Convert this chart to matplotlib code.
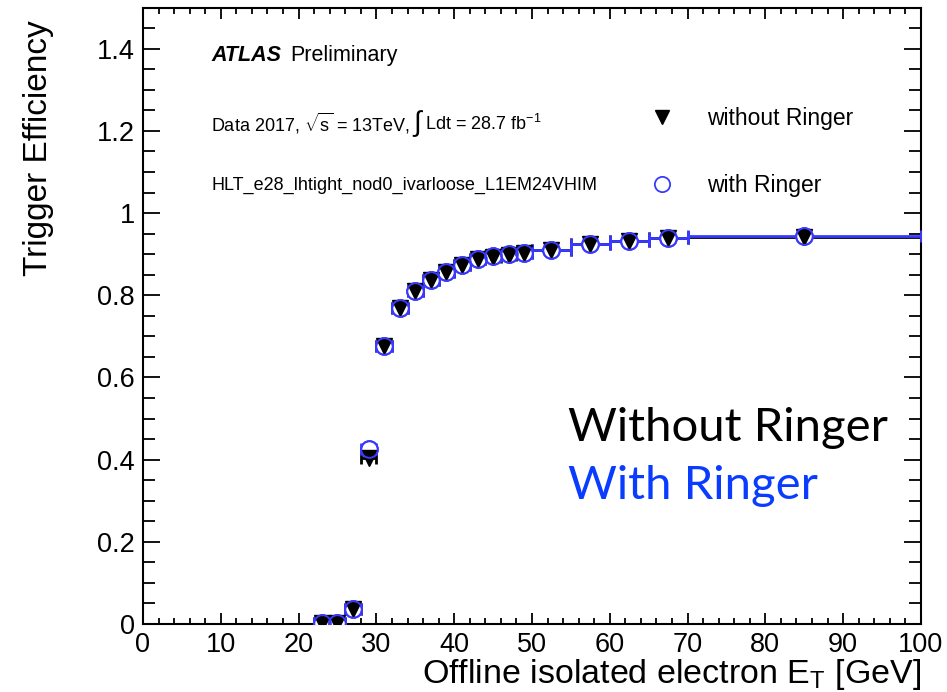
import numpy as np
import matplotlib
matplotlib.use("Agg")
import matplotlib.pyplot as plt
from matplotlib.ticker import MultipleLocator
from matplotlib.lines import Line2D
from matplotlib.transforms import offset_copy

plt.rcParams['font.family'] = ['Liberation Sans', 'DejaVu Sans']
plt.rcParams['mathtext.fontset'] = 'custom'
plt.rcParams['mathtext.rm'] = 'Liberation Sans'
plt.rcParams['mathtext.it'] = 'Liberation Sans:italic'

# Bin edges in offline electron E_T [GeV]
bin_lo = [22, 24, 26, 28, 30, 32, 34, 36, 38, 40, 42, 44, 46, 48, 50, 55, 60, 65, 70]
bin_hi = [24, 26, 28, 30, 32, 34, 36, 38, 40, 42, 44, 46, 48, 50, 55, 60, 65, 70, 100]

# Trigger efficiency per bin
eff_without = [0.002, 0.002, 0.036, 0.404, 0.676, 0.768, 0.810, 0.836, 0.856, 0.873,
               0.887, 0.894, 0.899, 0.903, 0.910, 0.924, 0.932, 0.939, 0.942]
eff_with = [0.002, 0.002, 0.037, 0.426, 0.677, 0.769, 0.811, 0.837, 0.857, 0.874,
            0.888, 0.895, 0.900, 0.904, 0.911, 0.925, 0.933, 0.940, 0.944]

x_lo = np.array(bin_lo, float)
x_hi = np.array(bin_hi, float)
xc = 0.5 * (x_lo + x_hi)
xw = 0.5 * (x_hi - x_lo)

blue = '#3a3aff'

fig = plt.figure(figsize=(9.47, 6.92), dpi=100)
ax = fig.add_axes([0.151, 0.0983, 0.8215, 0.8907])

# Horizontal bin-width bars with end caps
ax.errorbar(xc, eff_without, xerr=xw, fmt='none', ecolor='black', elinewidth=2.0,
            capsize=4, capthick=2.0, zorder=2)
ax.errorbar(xc, eff_with, xerr=xw, fmt='none', ecolor=blue, elinewidth=2.0,
            capsize=4, capthick=2.0, zorder=3)
ax.plot(xc, eff_with, linestyle='none', marker='o', markersize=12,
        markerfacecolor='white', markeredgecolor=blue, markeredgewidth=1.4, zorder=4)
ax.plot(xc, eff_without, linestyle='none', marker='v', markersize=11.5,
        color='black', zorder=5)
ax.plot(xc, eff_with, linestyle='none', marker='o', markersize=12,
        markerfacecolor='none', markeredgecolor=blue, markeredgewidth=1.4, zorder=6)

ax.set_xlim(0, 100)
ax.set_ylim(0, 1.5)
ax.xaxis.set_major_locator(MultipleLocator(10))
ax.xaxis.set_minor_locator(MultipleLocator(2))
ax.yaxis.set_major_locator(MultipleLocator(0.2))
ax.yaxis.set_minor_locator(MultipleLocator(0.05))
ax.set_yticks([0, 0.2, 0.4, 0.6, 0.8, 1.0, 1.2, 1.4])
ax.set_yticklabels(['0', '0.2', '0.4', '0.6', '0.8', '1', '1.2', '1.4'])

ax.tick_params(axis='both', which='both', direction='in', top=True, right=True,
               labelsize=19.5, width=1.3, colors='black')
ax.tick_params(axis='x', which='major', length=8, pad=6)
ax.tick_params(axis='x', which='minor', length=4.5)
ax.tick_params(axis='y', which='major', length=12, pad=6)
ax.tick_params(axis='y', which='minor', length=8.5)
for s in ax.spines.values():
    s.set_linewidth(1.5)

ax.set_xlabel(r'Offline isolated electron E$_\mathrm{T}$ [GeV]', fontsize=24.5, loc='right')
ax.xaxis.set_label_coords(1.0, -0.054)
ax.set_ylabel('Trigger Efficiency', fontsize=24, loc='top')
ax.yaxis.set_label_coords(-0.115, 0.98)

# ATLAS labels
ax.text(0.088, 0.923, 'ATLAS', transform=ax.transAxes, fontsize=15.5,
        fontweight='bold', fontstyle='italic', va='center')
ax.text(0.189, 0.923, 'Preliminary', transform=ax.transAxes, fontsize=15.5, va='center')

# Luminosity line, built from consecutive pieces
fig.canvas.draw()
renderer = fig.canvas.get_renderer()
pieces = [(r'Data 2017, $\sqrt{\mathrm{s}}$ = 13TeV, ', 13, 0),
          (r'$\int$', 20, 1),
          (r'Ldt = 28.7 fb$^{\mathrm{-1}}$', 13, 1)]
x_px = 0.0
for txt, fs, gap in pieces:
    tr = offset_copy(ax.transAxes, fig=fig, x=x_px * 72 / fig.dpi, y=0, units='points')
    t = ax.text(0.088, 0.812, txt, transform=tr, fontsize=fs, va='center')
    x_px += t.get_window_extent(renderer).width + gap

ax.text(0.088, 0.711, 'HLT_e28_lhtight_nod0_ivarloose_L1EM24VHIM',
        transform=ax.transAxes, fontsize=13, va='center')

handles = [Line2D([], [], linestyle='none', marker='v', markersize=10.5, color='black'),
           Line2D([], [], linestyle='none', marker='o', markersize=11, markerfacecolor='none',
                  markeredgecolor=blue, markeredgewidth=1.3)]
ax.legend(handles, ['without Ringer', 'with Ringer'], loc='upper left',
          bbox_to_anchor=(0.645, 0.838), frameon=False, fontsize=16.5,
          handletextpad=1.22, labelspacing=1.9, handlelength=1.5,
          borderpad=0, borderaxespad=0)

ax.text(0.546, 0.318, 'Without Ringer', transform=ax.transAxes, fontsize=34,
        family=['Lato', 'DejaVu Sans'], color='black', va='center')
ax.text(0.546, 0.224, 'With Ringer', transform=ax.transAxes, fontsize=34,
        family=['Lato', 'DejaVu Sans'], color='#0a3cff', va='center')

fig.savefig('out.png', dpi=100)
